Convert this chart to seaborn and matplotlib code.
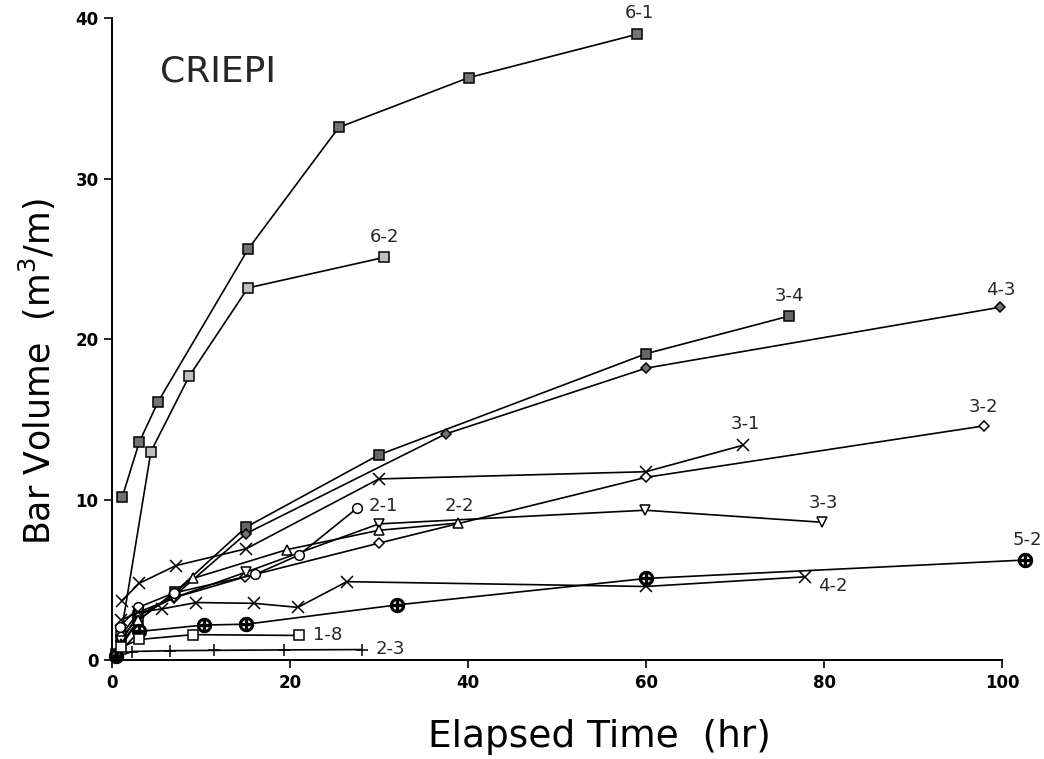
import pandas as pd
import matplotlib
matplotlib.use("Agg")
import matplotlib.pyplot as plt
import seaborn as sns

# elapsed time (hr) and bar volume (m3/m) per test case
T_6_1 = [1.2, 3.1, 5.2, 15.3, 25.5, 40.1, 59.0]
V_6_1 = [10.2, 13.6, 16.1, 25.6, 33.2, 36.3, 39.0]

T_6_2 = [1.0, 4.4, 8.7, 15.3, 30.6]
V_6_2 = [1.5, 13.0, 17.7, 23.2, 25.1]

T_3_4 = [0.5, 3.0, 7.1, 15.1, 30.0, 60.0, 76.1]
V_3_4 = [0.4, 2.5, 4.25, 8.3, 12.8, 19.1, 21.45]

T_4_3 = [1.0, 3.0, 7.0, 15.1, 37.5, 60.0, 99.8]
V_4_3 = [1.2, 2.8, 4.0, 7.9, 14.1, 18.2, 22.0]

T_3_1 = [1.1, 3.1, 7.2, 15.1, 30.0, 60.0, 70.9]
V_3_1 = [3.7, 4.8, 5.9, 6.95, 11.3, 11.75, 13.4]

T_3_2 = [1.0, 3.0, 7.0, 15.0, 30.0, 60.0, 97.9]
V_3_2 = [1.5, 3.0, 3.9, 5.2, 7.3, 11.4, 14.6]

T_3_3 = [1.0, 3.0, 7.0, 15.1, 30.0, 59.9, 79.8]
V_3_3 = [1.2, 2.8, 3.9, 5.5, 8.5, 9.35, 8.6]

T_2_2 = [1.0, 3.0, 9.1, 19.7, 30.0, 38.9]
V_2_2 = [1.0, 2.5, 5.1, 6.9, 8.1, 8.55]

T_2_1 = [0.9, 3.0, 7.0, 16.1, 21.0, 27.6]
V_2_1 = [2.1, 3.3, 4.2, 5.35, 6.55, 9.5]

T_4_2 = [1.0, 3.0, 5.6, 9.5, 16.0, 20.9, 26.4, 60.0, 77.8]
V_4_2 = [2.5, 3.0, 3.2, 3.6, 3.55, 3.3, 4.9, 4.6, 5.2]

T_5_2 = [0.5, 3.1, 10.4, 15.1, 32.0, 60.0, 102.6]
V_5_2 = [0.3, 1.8, 2.2, 2.25, 3.45, 5.1, 6.25]

T_1_8 = [1.0, 3.1, 9.1, 21.0]
V_1_8 = [0.8, 1.3, 1.6, 1.55]

T_2_3 = [0.5, 2.3, 6.6, 11.5, 19.4, 28.1]
V_2_3 = [0.2, 0.55, 0.6, 0.62, 0.65, 0.67]

CASES = ["6-1", "6-2", "3-4", "4-3", "3-1", "3-2", "3-3", "2-2", "2-1", "4-2", "5-2", "1-8", "2-3"]
TIMES = [T_6_1, T_6_2, T_3_4, T_4_3, T_3_1, T_3_2, T_3_3, T_2_2, T_2_1, T_4_2, T_5_2, T_1_8, T_2_3]
VOLUMES = [V_6_1, V_6_2, V_3_4, V_4_3, V_3_1, V_3_2, V_3_3, V_2_2, V_2_1, V_4_2, V_5_2, V_1_8, V_2_3]

# marker look per case: (marker, size, face colour)
STYLES = {
    "6-1": ("s", 7, "0.45"),
    "6-2": ("s", 7, "0.75"),
    "3-4": ("s", 7, "0.4"),
    "4-3": ("D", 5, "0.45"),
    "3-1": ("x", 8, "black"),
    "3-2": ("D", 5, "white"),
    "3-3": ("v", 7, "white"),
    "2-2": ("^", 7, "white"),
    "2-1": ("o", 7, "white"),
    "4-2": ("x", 8, "black"),
    "5-2": (r"$\oplus$", 10, "black"),
    "1-8": ("s", 7, "white"),
    "2-3": ("+", 9, "black"),
}

# where each case label sits (x, y, ha)
LABELS = {
    "6-1": (59.2, 40.3, "center"),
    "6-2": (30.6, 26.4, "center"),
    "3-4": (76.1, 22.7, "center"),
    "4-3": (99.8, 23.1, "center"),
    "3-1": (71.1, 14.7, "center"),
    "3-2": (97.9, 15.8, "center"),
    "3-3": (79.9, 9.8, "center"),
    "5-2": (102.8, 7.5, "center"),
    "2-2": (39.0, 9.6, "center"),
    "4-2": (79.3, 4.6, "left"),
    "2-1": (28.8, 9.6, "left"),
    "1-8": (22.6, 1.56, "left"),
    "2-3": (29.6, 0.7, "left"),
}

frames = []
for case, t, v in zip(CASES, TIMES, VOLUMES):
    frames.append(pd.DataFrame({"case": case, "time": t, "volume": v}))
data = pd.concat(frames, ignore_index=True)

sns.set_style("ticks")
plt.rcParams["font.family"] = ["DejaVu Sans"]

fig = plt.figure(figsize=(10.44, 7.59), dpi=100)
ax = fig.add_axes([0.107, 0.13, 0.853, 0.846])

for case in CASES:
    marker, size, face = STYLES[case]
    sub = data[data["case"] == case]
    sns.lineplot(
        data=sub, x="time", y="volume", ax=ax, estimator=None, sort=False,
        color="black", linewidth=1.2, marker=marker, markersize=size,
        markerfacecolor=face, markeredgecolor="black", markeredgewidth=1.1,
        clip_on=False, zorder=3,
    )
    lx, ly, ha = LABELS[case]
    ax.text(lx, ly, case, ha=ha, va="center", fontsize=13)

ax.text(11.9, 36.7, "CRIEPI", ha="center", va="center", fontsize=26)

ax.set_xlim(0, 100)
ax.set_ylim(0, 40)
ax.set_xticks([0, 20, 40, 60, 80, 100])
ax.set_yticks([0, 10, 20, 30, 40])
ax.tick_params(axis="both", direction="out", length=6, width=1.2,
               labelsize=12, color="black", labelcolor="black")
for lab in ax.get_xticklabels() + ax.get_yticklabels():
    lab.set_fontweight("bold")
sns.despine(ax=ax)
for s in ["left", "bottom"]:
    ax.spines[s].set_linewidth(1.4)
    ax.spines[s].set_color("black")

ax.set_xlabel("Elapsed Time  (hr)", fontsize=27, color="black")
ax.xaxis.label.set_va("center")
ax.xaxis.set_label_coords(0.548, -0.12)
ax.set_ylabel("Bar Volume  (m$^3$/m)", fontsize=25, color="black")
ax.yaxis.label.set_va("center")
ax.yaxis.set_label_coords(-0.083, 0.45)

fig.savefig("out.png", dpi=100)
